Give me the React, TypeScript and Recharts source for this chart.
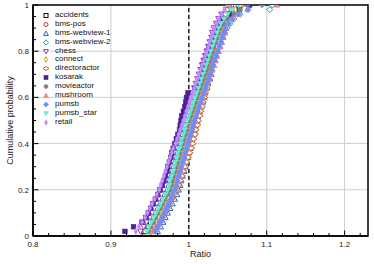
import React from 'react';
import {
  ScatterChart,
  Scatter,
  XAxis,
  YAxis,
  CartesianGrid,
  ReferenceLine,
  ReferenceArea,
  Legend,
} from 'recharts';

const FONT = '"Liberation Sans", Arial, Helvetica, sans-serif';

// cumulative probability levels (y) shared by every series
const probabilityLevels = [
  0.02, 0.04, 0.06, 0.08, 0.1, 0.12, 0.14, 0.16, 0.18, 0.2,
  0.22, 0.24, 0.26, 0.28, 0.3, 0.32, 0.34, 0.36, 0.38, 0.4,
  0.42, 0.44, 0.46, 0.48, 0.5, 0.52, 0.54, 0.56, 0.58, 0.6,
  0.62, 0.64, 0.66, 0.68, 0.7, 0.72, 0.74, 0.76, 0.78, 0.8,
  0.82, 0.84, 0.86, 0.88, 0.9, 0.92, 0.94, 0.96, 0.98, 1.0,
];

// ratio values (x) per series
const accidents = [
  0.944,0.948,0.951,0.954,0.957,0.960,0.963,0.966,0.969,0.972,
  0.974,0.975,0.977,0.979,0.980,0.982,0.984,0.985,0.987,0.989,
  0.990,0.992,0.994,0.995,0.997,0.999,1.001,1.003,1.005,1.007,
  1.009,1.011,1.013,1.015,1.017,1.019,1.021,1.023,1.025,1.027,
  1.029,1.031,1.033,1.035,1.037,1.040,1.043,1.047,1.052,1.060,
];
const bmsPos = [
  0.951,0.954,0.957,0.960,0.963,0.966,0.969,0.972,0.975,0.978,
  0.980,0.981,0.983,0.985,0.986,0.988,0.990,0.991,0.993,0.995,
  0.996,0.998,1.000,1.001,1.003,1.005,1.007,1.009,1.011,1.013,
  1.015,1.017,1.019,1.021,1.023,1.025,1.027,1.029,1.031,1.033,
  1.035,1.037,1.039,1.041,1.043,1.046,1.049,1.053,1.058,1.068,
];
const bmsWebview1 = [
  0.960,0.964,0.967,0.970,0.973,0.976,0.979,0.982,0.985,0.987,
  0.989,0.990,0.992,0.994,0.995,0.997,0.999,1.000,1.002,1.003,
  1.004,1.006,1.008,1.009,1.011,1.012,1.014,1.016,1.018,1.020,
  1.021,1.023,1.025,1.027,1.029,1.030,1.032,1.034,1.036,1.038,
  1.040,1.042,1.044,1.046,1.048,1.050,1.053,1.056,1.060,1.064,
];
const bmsWebview2 = [
  0.952,0.956,0.960,0.963,0.966,0.969,0.972,0.975,0.978,0.981,
  0.983,0.984,0.986,0.988,0.989,0.991,0.993,0.994,0.996,0.998,
  0.999,1.001,1.003,1.004,1.006,1.008,1.010,1.012,1.014,1.016,
  1.018,1.020,1.022,1.024,1.026,1.028,1.030,1.032,1.034,1.036,
  1.038,1.040,1.043,1.046,1.049,1.053,1.058,1.066,1.104,1.107,
];
const chess = [
  0.938,0.942,0.946,0.950,0.953,0.956,0.959,0.962,0.965,0.968,
  0.970,0.971,0.973,0.975,0.976,0.978,0.980,0.981,0.983,0.985,
  0.986,0.988,0.990,0.991,0.993,0.995,0.997,0.999,1.001,1.003,
  1.005,1.007,1.009,1.011,1.013,1.015,1.017,1.019,1.021,1.023,
  1.025,1.027,1.029,1.030,1.032,1.035,1.038,1.042,1.048,1.056,
];
const connect = [
  0.950,0.955,0.959,0.962,0.965,0.968,0.971,0.974,0.977,0.980,
  0.982,0.983,0.985,0.987,0.988,0.990,0.992,0.993,0.995,0.997,
  0.998,1.000,1.002,1.003,1.005,1.007,1.009,1.011,1.013,1.015,
  1.017,1.019,1.021,1.023,1.025,1.027,1.029,1.031,1.033,1.035,
  1.037,1.039,1.041,1.043,1.045,1.048,1.051,1.055,1.060,1.066,
];
const directoractor = [
  0.955,0.959,0.963,0.966,0.969,0.972,0.975,0.978,0.981,0.984,
  0.987,0.989,0.991,0.993,0.995,0.997,0.999,1.001,1.003,1.005,
  1.006,1.008,1.009,1.011,1.012,1.014,1.015,1.017,1.018,1.020,
  1.021,1.023,1.024,1.026,1.027,1.029,1.030,1.032,1.033,1.035,
  1.036,1.038,1.039,1.041,1.042,1.044,1.045,1.047,1.049,1.051,
];
const kosarak = [
  0.918,0.929,0.940,0.945,0.948,0.951,0.954,0.957,0.960,0.963,
  0.966,0.968,0.970,0.972,0.973,0.975,0.977,0.978,0.980,0.982,
  0.984,0.986,0.988,0.989,0.990,0.991,0.993,0.995,0.996,0.997,
  0.999,1.008,1.012,1.014,1.016,1.017,1.018,1.020,1.022,1.024,
  1.026,1.029,1.031,1.033,1.035,1.038,1.043,1.053,1.065,1.078,
];
const movieactor = [
  0.948,0.951,0.954,0.957,0.960,0.963,0.966,0.969,0.972,0.975,
  0.977,0.978,0.980,0.982,0.983,0.985,0.987,0.988,0.990,0.992,
  0.993,0.995,0.997,0.998,1.000,1.002,1.004,1.006,1.008,1.010,
  1.012,1.014,1.016,1.018,1.020,1.022,1.024,1.026,1.028,1.030,
  1.032,1.034,1.036,1.038,1.040,1.044,1.050,1.058,1.066,1.075,
];
const mushroom = [
  0.954,0.958,0.962,0.965,0.968,0.971,0.974,0.977,0.980,0.983,
  0.985,0.986,0.988,0.990,0.991,0.993,0.995,0.996,0.998,1.000,
  1.001,1.003,1.005,1.006,1.008,1.010,1.012,1.014,1.016,1.018,
  1.020,1.022,1.024,1.026,1.028,1.030,1.032,1.034,1.036,1.038,
  1.040,1.042,1.044,1.046,1.048,1.051,1.055,1.062,1.075,1.113,
];
const pumsb = [
  0.957,0.960,0.963,0.966,0.969,0.971,0.974,0.977,0.979,0.982,
  0.984,0.985,0.987,0.989,0.990,0.992,0.994,0.995,0.997,0.999,
  1.000,1.002,1.004,1.005,1.007,1.009,1.011,1.013,1.015,1.017,
  1.019,1.021,1.023,1.025,1.027,1.029,1.031,1.033,1.035,1.037,
  1.039,1.041,1.043,1.045,1.047,1.051,1.056,1.064,1.076,1.094,
];
const pumsbStar = [
  0.946,0.949,0.952,0.955,0.958,0.961,0.964,0.967,0.970,0.973,
  0.975,0.976,0.978,0.980,0.981,0.983,0.985,0.986,0.988,0.990,
  0.991,0.993,0.995,0.996,0.998,1.000,1.002,1.004,1.006,1.008,
  1.010,1.012,1.014,1.016,1.018,1.020,1.022,1.024,1.026,1.028,
  1.030,1.032,1.034,1.036,1.038,1.041,1.045,1.050,1.056,1.064,
];
const retail = [
  0.932,0.936,0.940,0.944,0.947,0.950,0.953,0.956,0.959,0.962,
  0.964,0.966,0.968,0.970,0.972,0.974,0.976,0.978,0.980,0.983,
  0.985,0.987,0.989,0.991,0.993,0.995,0.997,0.999,1.001,1.003,
  1.005,1.007,1.009,1.011,1.013,1.015,1.017,1.019,1.021,1.023,
  1.025,1.027,1.029,1.031,1.033,1.036,1.039,1.042,1.046,1.052,
];

const xTicks = [0.8,0.82,0.84,0.86,0.88,0.9,0.92,0.94,0.96,0.98,1,1.02,1.04,1.06,1.08,1.1,1.12,1.14,1.16,1.18,1.2,1.22];
const yTicks = [0,0.05,0.1,0.15,0.2,0.25,0.3,0.35,0.4,0.45,0.5,0.55,0.6,0.65,0.7,0.75,0.8,0.85,0.9,0.95,1];
const xGrid = [0.9, 1, 1.1, 1.2];
const yGrid = [0.2, 0.4, 0.6, 0.8];

type Kind = 'square' | 'circle' | 'triangle' | 'triangleDown' | 'diamond' | 'thinDiamond' | 'wideDiamond';

const series: { name: string; values: number[]; color: string; kind: Kind; filled: boolean }[] = [
  { name: 'accidents', values: accidents, color: '#111111', kind: 'square', filled: false },
  { name: 'bms-pos', values: bmsPos, color: '#d42a2a', kind: 'circle', filled: false },
  { name: 'bms-webview-1', values: bmsWebview1, color: '#2a5fcc', kind: 'triangle', filled: false },
  { name: 'bms-webview-2', values: bmsWebview2, color: '#1fa3a8', kind: 'diamond', filled: false },
  { name: 'chess', values: chess, color: '#9334b8', kind: 'triangleDown', filled: false },
  { name: 'connect', values: connect, color: '#c2a400', kind: 'thinDiamond', filled: false },
  { name: 'directoractor', values: directoractor, color: '#c46a1c', kind: 'wideDiamond', filled: false },
  { name: 'kosarak', values: kosarak, color: '#4b1f98', kind: 'square', filled: true },
  { name: 'movieactor', values: movieactor, color: '#7f7f7f', kind: 'circle', filled: true },
  { name: 'mushroom', values: mushroom, color: '#f78383', kind: 'triangle', filled: true },
  { name: 'pumsb', values: pumsb, color: '#6d8dfc', kind: 'diamond', filled: true },
  { name: 'pumsb_star', values: pumsbStar, color: '#64ecd4', kind: 'triangleDown', filled: true },
  { name: 'retail', values: retail, color: '#c58cfb', kind: 'thinDiamond', filled: true },
];

const Marker = ({ cx, cy, kind, color, filled, s = 2.3 }: any) => {
  if (cx == null || cy == null || isNaN(cx) || isNaN(cy)) return null;
  const fill = filled ? color : '#ffffff';
  const stroke = color;
  const sw = filled ? 0.6 : 1;
  switch (kind as Kind) {
    case 'square':
      return <rect x={cx - s} y={cy - s} width={2 * s} height={2 * s} fill={fill} stroke={stroke} strokeWidth={sw} />;
    case 'circle':
      return <circle cx={cx} cy={cy} r={s} fill={fill} stroke={stroke} strokeWidth={sw} />;
    case 'triangle': {
      const a = s * 1.2;
      return <polygon points={`${cx},${cy - a} ${cx + a},${cy + a * 0.8} ${cx - a},${cy + a * 0.8}`} fill={fill} stroke={stroke} strokeWidth={sw} />;
    }
    case 'triangleDown': {
      const a = s * 1.2;
      return <polygon points={`${cx},${cy + a} ${cx + a},${cy - a * 0.8} ${cx - a},${cy - a * 0.8}`} fill={fill} stroke={stroke} strokeWidth={sw} />;
    }
    case 'diamond': {
      const a = s * 1.3;
      return <polygon points={`${cx},${cy - a} ${cx + a},${cy} ${cx},${cy + a} ${cx - a},${cy}`} fill={fill} stroke={stroke} strokeWidth={sw} />;
    }
    case 'thinDiamond': {
      const w = s * 0.8;
      const h = s * 1.4;
      return <polygon points={`${cx},${cy - h} ${cx + w},${cy} ${cx},${cy + h} ${cx - w},${cy}`} fill={fill} stroke={stroke} strokeWidth={sw} />;
    }
    case 'wideDiamond': {
      const w = s * 1.5;
      const h = s * 1.0;
      return <polygon points={`${cx},${cy - h} ${cx + w},${cy} ${cx},${cy + h} ${cx - w},${cy}`} fill={fill} stroke={stroke} strokeWidth={sw} />;
    }
    default:
      return null;
  }
};

const XTick = (props: any) => {
  const { x, y, payload } = props;
  const v = payload.value as number;
  const major = Math.abs(v * 10 - Math.round(v * 10)) < 1e-6;
  return (
    <g>
      <line x1={x} y1={y} x2={x} y2={y - (major ? 5.5 : 3)} stroke="#000" strokeWidth={1} />
      {major && (
        <text x={x} y={y + 11} textAnchor="middle" fontSize={8} fill="#222" fontFamily={FONT}>
          {String(Math.round(v * 10) / 10)}
        </text>
      )}
    </g>
  );
};

const YTick = (props: any) => {
  const { x, y, payload } = props;
  const v = payload.value as number;
  const major = Math.abs(v * 5 - Math.round(v * 5)) < 1e-6;
  return (
    <g>
      <line x1={x} y1={y} x2={x + (major ? 5.5 : 3)} y2={y} stroke="#000" strokeWidth={1} />
      {major && (
        <text x={x - 4} y={y + 3} textAnchor="end" fontSize={8} fill="#222" fontFamily={FONT}>
          {String(Math.round(v * 5) / 5)}
        </text>
      )}
    </g>
  );
};

const renderLegend = () => (
  <div style={{ fontFamily: FONT, fontSize: 8, color: '#111' }}>
    {series.map((s) => (
      <div key={s.name} style={{ display: 'flex', alignItems: 'center', height: 8.9, lineHeight: '8.9px' }}>
        <svg width={10} height={9} style={{ display: 'block' }}>
          <Marker cx={5} cy={4.5} kind={s.kind} color={s.color} filled={s.filled} s={2} />
        </svg>
        <span style={{ marginLeft: 4, whiteSpace: 'nowrap' }}>{s.name}</span>
      </div>
    ))}
  </div>
);

const XLabel = (props: any) => {
  const { viewBox } = props;
  const cx = viewBox.x + viewBox.width / 2;
  return (
    <text x={cx} y={257} textAnchor="middle" fontSize={9} fill="#222" fontFamily={FONT}>
      Ratio
    </text>
  );
};

const YLabel = (props: any) => {
  const { viewBox } = props;
  const cy = viewBox.y + viewBox.height / 2;
  return (
    <text x={13} y={cy} textAnchor="middle" fontSize={9} fill="#222" fontFamily={FONT} transform={`rotate(-90, 13, ${cy})`}>
      Cumulative probability
    </text>
  );
};

export default function App() {
  return (
    <div style={{ position: 'absolute', left: 0, top: 0, width: 374, height: 264, background: '#fff' }}>
      <ScatterChart width={374} height={264} margin={{ top: 5, right: 6, left: 0, bottom: 0 }}>
        <CartesianGrid stroke="#cdcdcd" strokeWidth={1} verticalValues={xGrid} horizontalValues={yGrid} />
        <XAxis
          type="number"
          dataKey="x"
          domain={[0.8, 1.23]}
          allowDataOverflow
          ticks={xTicks}
          interval={0}
          tickSize={0}
          tickMargin={0}
          tickLine={false}
          tick={<XTick />}
          height={28}
          axisLine={{ stroke: '#000', strokeWidth: 1.5 }}
          label={<XLabel />}
        />
        <YAxis
          type="number"
          dataKey="y"
          domain={[0, 1]}
          allowDataOverflow
          ticks={yTicks}
          interval={0}
          tickSize={0}
          tickMargin={0}
          tickLine={false}
          tick={<YTick />}
          width={33}
          axisLine={{ stroke: '#000', strokeWidth: 1.5 }}
          label={<YLabel />}
        />
        <ReferenceLine x={1} stroke="#222" strokeWidth={1.5} strokeDasharray="4 3" />
        {series.map((s) => (
          <Scatter
            key={s.name}
            name={s.name}
            data={s.values.map((x, i) => ({ x, y: probabilityLevels[i] }))}
            fill={s.color}
            isAnimationActive={false}
            shape={(p: any) => <Marker cx={p.cx} cy={p.cy} kind={s.kind} color={s.color} filled={s.filled} />}
          />
        ))}
        <ReferenceArea x1={0.8} x2={1.23} y1={0} y2={1} fill="none" stroke="#000" strokeWidth={1.5} fillOpacity={0} />
        <Legend
          layout="vertical"
          align="center"
          verticalAlign="middle"
          wrapperStyle={{ left: 41, top: 11, width: 'auto', height: 'auto' }}
          content={renderLegend}
        />
      </ScatterChart>
    </div>
  );
}
